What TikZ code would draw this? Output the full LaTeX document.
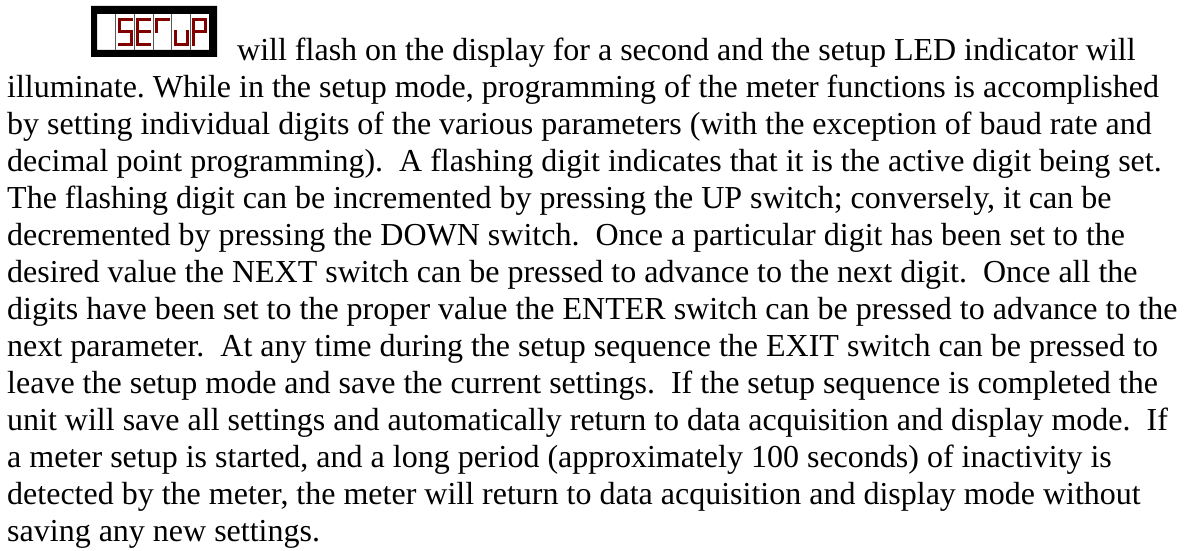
\documentclass[tikz,border=0pt]{standalone}
\usepackage{fontspec}
\setmainfont{Liberation Serif}
\frenchspacing
% seven-segment pieces, relative to the left edge of a display cell
\newcommand\segA{\draw[seg] (3.5,19.5) -- (15.5,19.5);}
\newcommand\segB{\draw[seg] (15.5,19.5) -- (15.5,32);}
\newcommand\segC{\draw[seg] (15.5,32) -- (15.5,44.5);}
\newcommand\segD{\draw[seg] (3.5,44.5) -- (15.5,44.5);}
\newcommand\segE{\draw[seg] (3.5,32) -- (3.5,44.5);}
\newcommand\segF{\draw[seg] (3.5,19.5) -- (3.5,32);}
\newcommand\segG{\draw[seg] (3.5,32) -- (15.5,32);}
\begin{document}
\begin{tikzpicture}[x=1pt,y=-1pt,
  seg/.style={draw=ledred,line width=3pt,line cap=rect},
  divider/.style={draw=black!65,line width=1pt},
  bodytext/.style={anchor=base west,inner sep=0pt,font=\fontsize{32}{37}\selectfont}]
\definecolor{ledred}{RGB}{128,0,0}
\useasboundingbox (0,0) rectangle (1186,551);

% display frame
\fill[black,even odd rule] (91,6) rectangle (217,57) (97,14) rectangle (209,50);
\foreach \k in {1,...,5}
  \draw[divider] ({97+\k*18.667},14) -- ({97+\k*18.667},50);

% S
\begin{scope}[xshift=115.67pt]\segA\segF\segG\segC\segD\end{scope}
% E
\begin{scope}[xshift=134.33pt]\segA\segF\segG\segE\segD\end{scope}
% t
\begin{scope}[xshift=153pt]\segA\segF\end{scope}
% u
\begin{scope}[xshift=171.67pt]\segE\segD\segC\end{scope}
% P
\begin{scope}[xshift=190.33pt]\segA\segB\segF\segG\segE\end{scope}

\node[bodytext] (l1)  at (237,60)  {will flash on the display for a second and the setup LED indicator will};
\node[bodytext] (l2)  at (7,97)    {illuminate. While in the setup mode, programming of the meter functions is accomplished};
\node[bodytext] (l3)  at (7,134)   {by setting individual digits of the various parameters (with the exception of baud rate and};
\node[bodytext] (l4)  at (7,171)   {decimal point programming).\ \ A flashing digit indicates that it is the active digit being set.};
\node[bodytext] (l5)  at (7,208)   {The flashing digit can be incremented by pressing the UP switch; conversely, it can be};
\node[bodytext] (l6)  at (7,245)   {decremented by pressing the DOWN switch.\ \ Once a particular digit has been set to the};
\node[bodytext] (l7)  at (7,282)   {desired value the NEXT switch can be pressed to advance to the next digit.\ \ Once all the};
\node[bodytext] (l8)  at (7,319)   {digits have been set to the proper value the ENTER switch can be pressed to advance to the};
\node[bodytext] (l9)  at (7,356)   {next parameter.\ \ At any time during the setup sequence the EXIT switch can be pressed to};
\node[bodytext] (l10) at (7,393)   {leave the setup mode and save the current settings.\ \ If the setup sequence is completed the};
\node[bodytext] (l11) at (7,430)   {unit will save all settings and automatically return to data acquisition and display mode.\ \ If};
\node[bodytext] (l12) at (7,467)   {a meter setup is started, and a long period (approximately 100 seconds) of inactivity is};
\node[bodytext] (l13) at (7,504)   {detected by the meter, the meter will return to data acquisition and display mode without};
\node[bodytext] (l14) at (7,541)   {saving any new settings.};
\end{tikzpicture}
\end{document}
